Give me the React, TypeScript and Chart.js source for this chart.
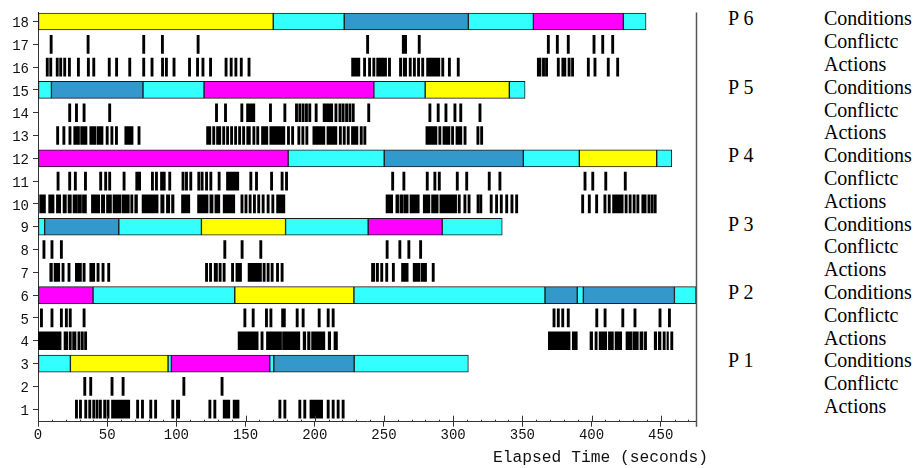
import React, { useEffect, useRef } from 'react';
import { Chart, registerables } from 'chart.js';

Chart.register(...registerables);

type Ev = number | [number, number];

// ---- Y axis rows / tick labels ----
const Y_TICK_LABELS = ['1', '2', '3', '4', '5', '6', '7', '8', '9', '10', '11', '12', '13', '14', '15', '16', '17', '18'];
const X_TICK_LABELS = [0, 50, 100, 150, 200, 250, 300, 350, 400, 450];
const X_TITLE = 'Elapsed Time (seconds)';
const PROCESSES = ['P 6', 'P 5', 'P 4', 'P 3', 'P 2', 'P 1'];
const ROW_KINDS = ['Conditions', 'Conflictc', 'Actions'];

// ---- Condition rows: segment boundaries (s) and state of each segment ----
const P6_COND_BOUNDS = [0, 170, 221.3, 311, 358, 423, 439.4];
const P6_COND_STATES = ['Y', 'C', 'B', 'C', 'M', 'C'];
const P5_COND_BOUNDS = [0, 9.7, 75.9, 120, 242.7, 279.8, 340.6, 352];
const P5_COND_STATES = ['C', 'B', 'C', 'M', 'C', 'Y', 'C'];
const P4_COND_BOUNDS = [0, 180.8, 250.2, 350.7, 391.2, 447.1, 458];
const P4_COND_STATES = ['M', 'C', 'B', 'C', 'Y', 'C'];
const P3_COND_BOUNDS = [0, 4.8, 58.4, 118.1, 178.9, 238.6, 292.1, 335.5];
const P3_COND_STATES = ['C', 'B', 'C', 'Y', 'C', 'M', 'C'];
const P2_COND_BOUNDS = [0, 39.8, 142.2, 228.3, 366.4, 389.7, 394.1, 459.9, 475.5];
const P2_COND_STATES = ['M', 'C', 'Y', 'C', 'B', 'C', 'B', 'C'];
const P1_COND_BOUNDS = [0, 23.4, 94, 96.4, 167.5, 170.4, 228.5, 311];
const P1_COND_STATES = ['C', 'Y', 'C', 'M', 'C', 'B', 'C'];

// ---- Event rows: single event times (s) or solid runs [start, end] ----
const P6_CONFLICT: Ev[] = [9.5, 36.2, 76.4, 89.9, 115.7, 238.2, [263.2, 266.4], 275.5, 368.8, 375.3, 383.2, 401.8, 408.1, 415.3];
const P6_ACTIONS: Ev[] = [6.7, 9.2, 13.9, 16.4, 19.3, 22.7, 29.2, 36.4, 40.3, 51.5, 56.8, 66.3, 76.4, 82.4, 90, 92.8, 98.3, 109.5, 115.3, 119.2, 124.7, 135.9, 139.6, 143, 146.9, 152.5,
  [226.6, 232.6], 236, 239.6, 242.7, [244.7, 251.9], 254, 262, [263.9, 266.4], 269, 272, 275, 278, [280.8, 290.4], 292.5, 297.3, 303.7,
  [360.8, 363.5], 365.3, 367.5, 376, [378.5, 381.5], 383.8, 386.3, 397.7, 402.5, 412.1, 418.9];
const P5_CONFLICT: Ev[] = [22.9, 27.8, 33.3, 51.8, 129, 135.5, 147.3, [150.7, 156.7], 168, 178.4, 186.8, 189.2, 191.6, 194, 196.4, 201, [206, 213], 215.3, 218.2, 220.5, 223, 225.4, 227.8, 239,
  283.2, 289.2, 294.8, 301.3, 305.5, 319.4];
const P5_ACTIONS: Ev[] = [14.2, 18.7, 23.1, [25.8, 30], [30.8, 35.4], [37.4, 42], [42.8, 47], 50, 53.4, 56.7, [62.7, 68.7], 73,
  [121.8, 124.9], 127, [129, 132.1], 134.2, 137, 139.9, 142.8, 145.7, 148.6, [150.8, 153.5], 156, 158.8, [161.5, 166.1], [167.5, 178.4], 181, 184, 188.5, 191.4, 194.3,
  [198.6, 207.3], [208.8, 216], 218.5, 221.3, 224.2, [226.5, 231.2], 233.6, 236.2,
  [280.3, 288.3], 290.4, [292.6, 297.7], 299.6, [302, 306.3], 308.6, 317.9, 320.6];
const P4_CONFLICT: Ev[] = [14.5, 22.9, 27, 34.3, 45.3, 48.9, 51.8, 62.2, [70.6, 74.2], 82.7, 85.6, [88.5, 92], 95.2, 104.8, 107.3, 110.4, 116.2, 118.6, 121.8, 124.9, 130.9, [136.2, 145.1],
  153.8, 157.9, 168.8, 176.4, 179.6, 256.3, 264.4, 281.3, 286.8, 290, 303, 309.8, 326.1, 333.8, 395.3, 400.9, 410.3, 424.4];
const P4_ACTIONS: Ev[] = [[1.2, 5.4], [7.7, 11.6], [13.3, 16.4], [18.1, 20.5], [21.7, 24.1], [25.3, 28.5], [28.9, 31.4], [32.1, 35], [38.6, 44.6], [45.8, 48.2], [49.5, 53.1],
  [54.2, 60], [60.8, 66], 67.8, [69.9, 71.9], [75.2, 86.8], [88.7, 91.1], [92.8, 95.2], [96.5, 98.3], [103.7, 109.7], [115.3, 122.9], [124.2, 126.5], [127.8, 131.4], [133.8, 142.2],
  147.4, 150.3, 153.3, 156.4, 159.5, 162.7, 166.3, 169.7, [172.4, 178.4],
  [251.5, 256.3], [258.6, 260.6], [261.5, 264], [264.6, 267.5], [268.8, 275.5], [278.4, 283.2], [284.4, 289.2], [290.4, 302.5], 304.4, 308.5, 311.5, 318, 320, 327.5, 331.4, 334.8, 338.7, 342.5, 345.9,
  393.6, 398.4, 403.7, 409.7, 412.8, [415.2, 422.9], 425, 427.9, 430.8, 433.5, [436.3, 439.5], 441.5, 443.8, 446];
const P3_CONFLICT: Ev[] = [4.3, 10.1, 16.9, 135, 147.5, 161, 252.3, 261.5, 268, 276.5];
const P3_ACTIONS: Ev[] = [[8.5, 10.4], [11.6, 15.7], 18.1, 22.4, [27, 31.4], 33.3, [37.4, 41], 43.4, 47, 51.1,
  121.8, 124.7, [127.3, 129.7], 131.6, 134.5, 140.6, [143, 147.1], [151.8, 161.5], 163.4, 166.3, 169.2, 173.1, 176.4,
  [241, 243.4], 245.3, 248.4, 252, 256.8, [262.7, 267.5], [271.1, 276], [276.8, 280.8], 285.6];
const P2_CONFLICT: Ev[] = [2.5, 10.1, 16.9, 20.5, 23.3, 33.3, 149.5, 155.5, 165.1, 168.3, [176, 178.8], 187.3, 191.6, 203.2, 209.7, 213.3,
  372.9, 376, 379.2, 383.2, 403.8, 409.8, 422.6, 431.4, 449.5, 456.3];
const P2_ACTIONS: Ev[] = [[0, 16.7], [18.8, 21.5], 23.3, [25, 27.5], 29.6, 32, 34.4,
  [144.6, 159.1], 161.9, [165.1, 176], [176.7, 189.2], [191.6, 193.5], [194.8, 196.6], [197.7, 207.3], [209.7, 211.5], [213.9, 216.4],
  [368.8, 384.5], [386.1, 389.7], [398.9, 400.8], 403.3, [405.5, 411], [412.2, 415.8], [417, 421.8], [424.9, 429], [429.8, 433.8], [435, 437.2], 439,
  [445.3, 447.1], [448.3, 450.2], 452.5, [454.5, 455.6], 458];
const P1_CONFLICT: Ev[] = [33.8, 38.1, 53.5, 61.5, 105.4, 133];
const P1_ACTIONS: Ev[] = [27.8, 30.7, 34.5, 37.4, 40.3, 42.7, 45.1, 48.2, 50.6, [53.1, 66.3], 72, 75.5, 81.5, 85, 97.4, [100, 102.4],
  124.2, 127.8, [133.8, 138.6], [141, 145.3], 174.8, 178.4, 189.2, 192.8, [196.5, 205.7], 209.7, 213.3, 216.9, 220.5];

// ---- Styles ----
const STATE_COLORS: Record<string, string> = { Y: '#FFFF00', C: '#33FFFF', B: '#3399CC', M: '#FF00FF' };
const MARK_W = 1.6; // seconds drawn for a single event
const X_MAX = 475.5;
const MONO = "'Liberation Mono', 'DejaVu Sans Mono', monospace";
const SERIF = "'Liberation Serif', 'Times New Roman', serif";

const CONDITION_ROWS = [
  { row: 3, bounds: P1_COND_BOUNDS, states: P1_COND_STATES },
  { row: 6, bounds: P2_COND_BOUNDS, states: P2_COND_STATES },
  { row: 9, bounds: P3_COND_BOUNDS, states: P3_COND_STATES },
  { row: 12, bounds: P4_COND_BOUNDS, states: P4_COND_STATES },
  { row: 15, bounds: P5_COND_BOUNDS, states: P5_COND_STATES },
  { row: 18, bounds: P6_COND_BOUNDS, states: P6_COND_STATES },
];
const EVENT_ROWS = [
  { row: 1, events: P1_ACTIONS }, { row: 2, events: P1_CONFLICT },
  { row: 4, events: P2_ACTIONS }, { row: 5, events: P2_CONFLICT },
  { row: 7, events: P3_ACTIONS }, { row: 8, events: P3_CONFLICT },
  { row: 10, events: P4_ACTIONS }, { row: 11, events: P4_CONFLICT },
  { row: 13, events: P5_ACTIONS }, { row: 14, events: P5_CONFLICT },
  { row: 16, events: P6_ACTIONS }, { row: 17, events: P6_CONFLICT },
];

const axisExtras = {
  id: 'axisExtras',
  afterDraw(chart: any) {
    const { ctx, chartArea } = chart;
    const xs = chart.scales.x;
    ctx.save();
    ctx.strokeStyle = '#333';
    ctx.lineWidth = 1;
    ctx.beginPath();
    for (const t of xs.ticks) {
      const px = Math.round(xs.getPixelForValue(t.value)) + 0.5;
      const len = t.value % 50 === 0 ? 6 : 2;
      ctx.moveTo(px, chartArea.bottom);
      ctx.lineTo(px, chartArea.bottom - len);
    }
    ctx.stroke();
    ctx.strokeStyle = '#555';
    ctx.lineWidth = 1.5;
    ctx.beginPath();
    const rx = Math.round(chartArea.right) + 0.5;
    ctx.moveTo(rx, chartArea.top);
    ctx.lineTo(rx, chartArea.bottom + 5);
    ctx.stroke();
    ctx.restore();
  },
};

export default function App() {
  const ref = useRef<HTMLCanvasElement>(null);

  useEffect(() => {
    const canvas = ref.current;
    if (!canvas) return;
    const condData: any[] = [];
    const condColors: string[] = [];
    CONDITION_ROWS.forEach(({ row, bounds, states }) => {
      states.forEach((s, i) => {
        condData.push({ x: [bounds[i], bounds[i + 1]], y: row });
        condColors.push(STATE_COLORS[s]);
      });
    });
    const markData: any[] = [];
    EVENT_ROWS.forEach(({ row, events }) => {
      events.forEach((e) => {
        const r = typeof e === 'number' ? [e - MARK_W / 2, e + MARK_W / 2] : e;
        markData.push({ x: r, y: row });
      });
    });
    const minorTicks: number[] = [];
    for (let v = 0; v <= X_MAX; v += 10) minorTicks.push(v);

    const chart = new Chart(canvas, {
      type: 'bar',
      data: {
        datasets: [
          {
            label: 'Conditions',
            data: condData,
            backgroundColor: condColors,
            borderColor: '#1a1a1a',
            borderWidth: 1,
            borderSkipped: false,
            barThickness: 17,
            grouped: false,
          } as any,
          {
            label: 'Events',
            data: markData,
            backgroundColor: '#000000',
            borderWidth: 0,
            barThickness: 18,
            grouped: false,
          } as any,
        ],
      },
      options: {
        indexAxis: 'y',
        animation: false,
        responsive: false,
        layout: { padding: { top: 11.7, right: 24, left: 0, bottom: 0 } },
        plugins: { legend: { display: false }, tooltip: { enabled: false } },
        scales: {
          x: {
            type: 'linear',
            min: 0,
            max: X_MAX,
            offset: false,
            afterBuildTicks: (s: any) => { s.ticks = minorTicks.map((v) => ({ value: v })); },
            afterFit: (s: any) => { s.height = 46.3; },
            ticks: {
              autoSkip: false,
              maxRotation: 0,
              padding: 0,
              color: '#111',
              font: { family: MONO, size: 14 },
              callback: (v: any) => (X_TICK_LABELS.includes(Number(v)) ? String(v) : ''),
            },
            grid: {
              offset: false,
              drawOnChartArea: false,
              drawTicks: true,
              tickLength: 5,
              color: (c: any) => (c.tick && X_TICK_LABELS.includes(c.tick.value) ? '#333' : 'rgba(0,0,0,0)'),
            },
            border: { display: true, color: '#333', width: 1 },
          },
          y: {
            type: 'linear',
            min: 0.45,
            max: 18.4,
            offset: false,
            afterBuildTicks: (s: any) => { s.ticks = Y_TICK_LABELS.map((_, i) => ({ value: i + 1 })); },
            afterFit: (s: any) => { s.width = 38; },
            ticks: {
              autoSkip: false,
              padding: 4,
              labelOffset: 2,
              color: '#111',
              font: { family: MONO, size: 14 },
              callback: (v: any) => Y_TICK_LABELS[Number(v) - 1] ?? '',
            },
            grid: { offset: false, drawOnChartArea: false, drawTicks: true, tickLength: 5, color: '#333' },
            border: { display: true, color: '#333', width: 1 },
          },
        },
      } as any,
      plugins: [axisExtras],
    });
    return () => chart.destroy();
  }, []);

  const lines: { p: string; k: string }[] = [];
  PROCESSES.forEach((p) => ROW_KINDS.forEach((k, i) => lines.push({ p: i === 0 ? p : '', k })));

  return (
    <div style={{ position: 'absolute', left: 0, top: 0, width: 913, height: 468, overflow: 'hidden', background: '#fff' }}>
      <canvas ref={ref} width={720} height={468} style={{ position: 'absolute', left: 0, top: 0, width: 720, height: 468 }} />
      <div style={{ position: 'absolute', left: 493, top: 449.5, fontFamily: MONO, fontSize: 16.3, lineHeight: '16px', whiteSpace: 'pre', color: '#111' }}>
        {X_TITLE}
      </div>
      {lines.map((l, i) => (
        <React.Fragment key={i}>
          {l.p && (
            <div style={{ position: 'absolute', left: 728, top: 7.4 + i * 22.8, fontFamily: SERIF, fontSize: 20, lineHeight: '22.8px', whiteSpace: 'pre', color: '#000' }}>{l.p}</div>
          )}
          <div style={{ position: 'absolute', left: 824, top: 7.4 + i * 22.8, fontFamily: SERIF, fontSize: 20, lineHeight: '22.8px', whiteSpace: 'pre', color: '#000' }}>{l.k}</div>
        </React.Fragment>
      ))}
    </div>
  );
}
